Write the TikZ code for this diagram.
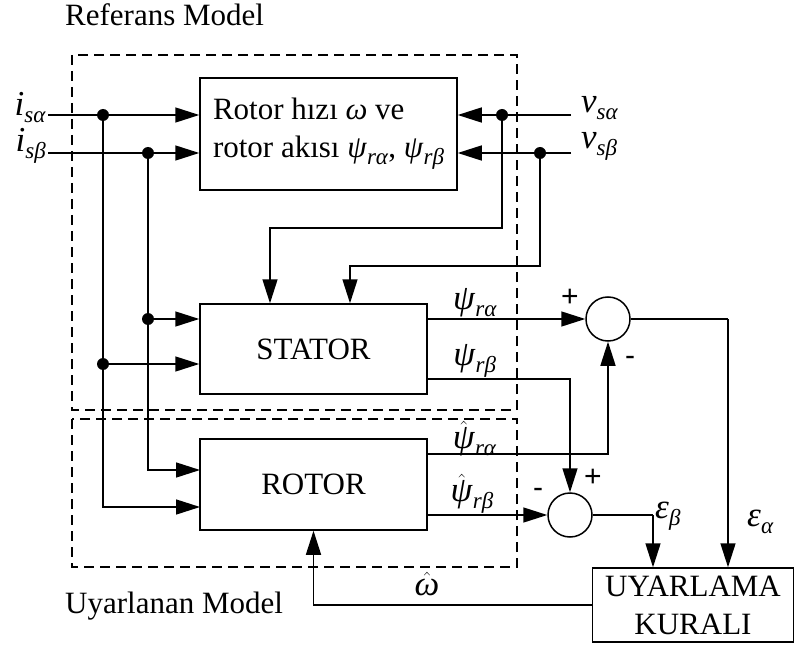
\documentclass[tikz,border=0pt]{standalone}
\usepackage{fontspec}
\setmainfont{Liberation Serif}
\newfontfamily\signfont{Liberation Sans}
\usetikzlibrary{arrows.meta, positioning}
\newcommand{\subs}[1]{\raisebox{-7pt}{\fontsize{23}{23}\selectfont\textit{#1}}}
\newcommand{\gs}[2]{\textit{#1}\subs{#2}}
\newcommand{\hgs}[2]{$\hat{\mbox{\textit{#1}}}$\subs{#2}}
\tikzset{
  blk/.style  ={rectangle, draw, line width=1.5pt, text centered,
                font=\fontsize{31}{38}\selectfont},
  sumc/.style ={circle, draw, line width=1.5pt, minimum size=44pt, inner sep=0pt},
  dot/.style  ={circle, fill, inner sep=0pt, minimum size=12pt},
  sig/.style  ={-{Triangle[length=24pt, width=15pt]}, line width=1.5pt},
  wire/.style ={line width=1.5pt},
  frame/.style={line width=1.5pt, dash pattern=on 10pt off 6pt},
  lbl/.style  ={font=\fontsize{31}{36}\selectfont, inner sep=1pt},
  sym/.style  ={font=\fontsize{35}{40}\selectfont, inner sep=1pt},
  sgn/.style  ={font=\signfont\fontsize{30}{32}\selectfont, inner sep=0pt},
}

\begin{document}
\begin{tikzpicture}[x=1pt, y=-1pt]
  \useasboundingbox (0,0) rectangle (795,647);

  % model frames
  \draw[frame] (72,55) rectangle (517,410);
  \draw[frame] (72,419) rectangle (517,567);
  \node[lbl, anchor=west] (reftitle) at (64,15)  {Referans Model};
  \node[lbl, anchor=west] (adptitle) at (64,606) {Uyarlanan Model};

  % blocks
  \node[blk, align=left, minimum width=257pt, minimum height=112pt] (topblk) at (328.5,134)
        {Rotor hızı \textit{ω} ve\\rotor akısı \gs{ψ}{rα}, \gs{ψ}{rβ}};
  \node[blk, minimum width=227pt, minimum height=90pt] (stator) at (313.5,349) {STATOR};
  \node[blk, minimum width=227pt, minimum height=91pt] (rotor)  at (313.5,484.5) {ROTOR};
  \node[blk, align=center, minimum width=201pt, minimum height=74pt, inner sep=0pt] (rule) at (693,605)
        {UYARLAMA\\KURALI};
  \node[sumc] (sum1) at (608,319) {};
  \node[sumc] (sum2) at (570,515) {};

  % inputs
  \coordinate (isa) at (48,115);
  \coordinate (isb) at (48,153);
  \coordinate (vsa) at (571,115);
  \coordinate (vsb) at (571,153);
  \node[sym, anchor=east] at (47,108) {\gs{i}{sα}};
  \node[sym, anchor=east] at (47,146) {\gs{i}{sβ}};
  \node[sym, anchor=west] at (580,108) {\gs{v}{sα}};
  \node[sym, anchor=west] at (580,146) {\gs{v}{sβ}};
  \draw[sig] (isa) -- (isa -| topblk.west);
  \draw[sig] (isb) -- (isb -| topblk.west);
  \draw[sig] (vsa) -- (vsa -| topblk.east);
  \draw[sig] (vsb) -- (vsb -| topblk.east);

  % junctions
  \node[dot] (j1) at (103,115) {};
  \node[dot] (j2) at (148,153) {};
  \node[dot] (j3) at (502,115) {};
  \node[dot] (j4) at (540,153) {};
  \node[dot] (j5) at (148,319) {};
  \node[dot] (j6) at (103,364) {};
  \coordinate (r1) at (200,470);
  \coordinate (r2) at (200,507);
  \coordinate (c1) at (270,228);
  \coordinate (c2) at (350,266);

  \draw[sig] (j1) |- (r2);
  \draw[sig] (j2) |- (r1);
  \draw[sig] (j5) -- (j5 -| stator.west);
  \draw[sig] (j6) -- (j6 -| stator.west);
  \draw[sig] (j3) |- (c1) -- (c1 |- stator.north);
  \draw[sig] (j4) |- (c2) -- (c2 |- stator.north);

  % flux outputs
  \coordinate (kb) at (570,379);
  \coordinate (ka) at (608,454);
  \draw[sig] (stator.east |- sum1) -- node[sym, above, pos=0.3] {\gs{ψ}{rα}} (sum1);
  \draw[sig] (stator.east |- kb) -- node[sym, above, pos=0.33] {\gs{ψ}{rβ}} (kb) -- (sum2);
  \draw[sig] (rotor.east |- ka) -- node[sym, above, pos=0.26, yshift=-4pt] {\hgs{ψ}{rα}} (ka) -- (sum1);
  \draw[sig] (rotor.east |- sum2) -- node[sym, above, pos=0.37] {\hgs{ψ}{rβ}} (sum2);
  \node[sgn] at (570,298) {+};
  \node[sgn] at (630,361) {-};
  \node[sgn] at (593,478) {+};
  \node[sgn] at (538,493) {-};

  % errors and feedback
  \coordinate (ea) at (728,319);
  \coordinate (eb) at (653,515);
  \draw[wire] (sum1) -- (ea);
  \draw[sig] (ea) -- (ea |- rule.north);
  \node[sym, anchor=west] at (746,522) {\gs{ε}{α}};
  \draw[wire] (sum2) -- (eb);
  \draw[sig] (eb) -- (eb |- rule.north);
  \node[sym, anchor=west] at (654,516) {\gs{ε}{β}};
  \draw[sig] (rule.west) -| (rotor.south);
  \node[sym] at (427,584) {$\hat{\mbox{\textit{ω}}}$};

\end{tikzpicture}
\end{document}
